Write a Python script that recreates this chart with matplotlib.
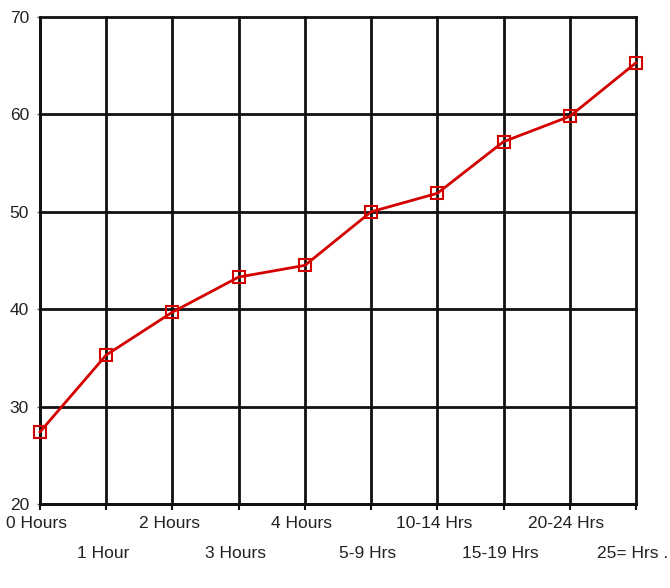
import matplotlib
matplotlib.use("Agg")
import matplotlib.pyplot as plt

categories = ["0 Hours", "1 Hour", "2 Hours", "3 Hours", "4 Hours",
              "5-9 Hrs", "10-14 Hrs", "15-19 Hrs", "20-24 Hrs", "25= Hrs ."]
values = [27.4, 35.3, 39.7, 43.3, 44.5, 50.0, 51.9, 57.2, 59.8, 65.3]
yticks = [20, 30, 40, 50, 60, 70]

plt.rcParams['font.family'] = ['Liberation Sans', 'DejaVu Sans']

fig = plt.figure(figsize=(6.7, 5.88), dpi=100)
ax = fig.add_axes([40/670, 1-504/588, (636-40)/670, (504-17)/588])

x = list(range(len(categories)))
ax.set_xlim(0, len(categories)-1)
ax.set_ylim(20, 70)

for xi in x:
    ax.axvline(xi, color='#111111', lw=2, zorder=1, clip_on=False)
for yv in yticks:
    ax.axhline(yv, color='#111111', lw=2, zorder=1, clip_on=False)

ax.plot(x, values, color='#d40000', lw=2, marker='s', markersize=9,
        markerfacecolor='none', markeredgecolor='#d40000', markeredgewidth=1.5,
        zorder=3, clip_on=False)

for s in ['top', 'right']:
    ax.spines[s].set_visible(False)
for s in ['left', 'bottom']:
    ax.spines[s].set_color('#111111')
    ax.spines[s].set_linewidth(2)

ax.set_yticks(yticks)
ax.set_yticklabels([str(v) for v in yticks], fontsize=12.5, color='#222222')
ax.tick_params(axis='y', length=2, width=1, color='#555555', pad=6)

ax.set_xticks(x)
ax.set_xticklabels([])
ax.tick_params(axis='x', length=4, width=1.5, color='#111111')
for i, lab in enumerate(categories):
    yoff = 523 if i % 2 == 0 else 553
    ax.text(i - 0.05, 1 - (yoff - 17) / (504 - 17), lab,
            transform=ax.get_xaxis_transform(), ha='center', va='center',
            fontsize=12.5, color='#222222')

fig.savefig("out.png", dpi=100, facecolor='white')
